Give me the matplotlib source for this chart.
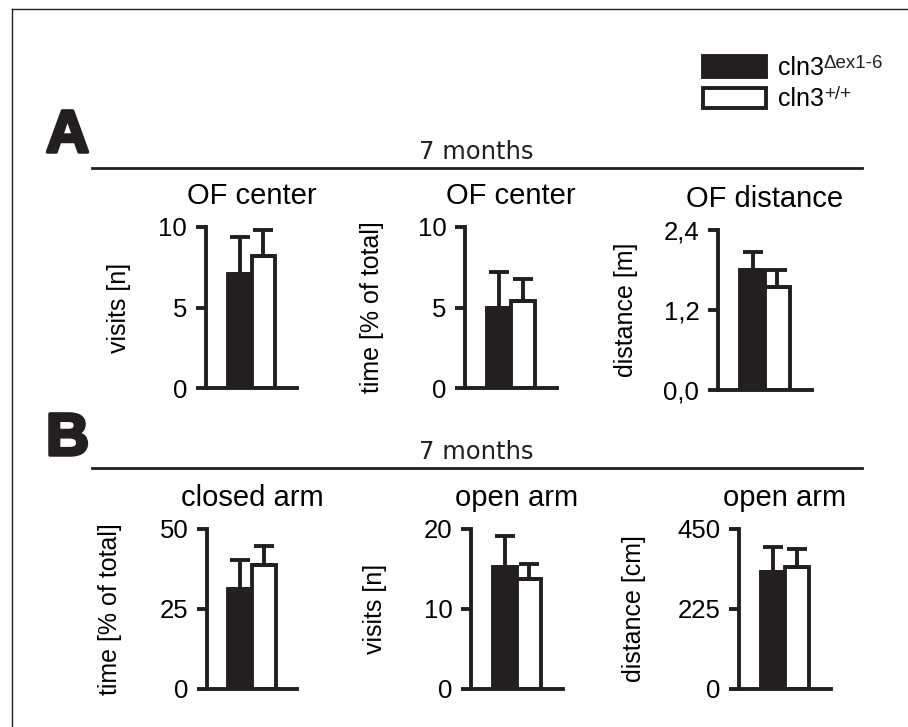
import matplotlib
matplotlib.use("Agg")
import matplotlib.pyplot as plt
import matplotlib.patheffects as pe
from matplotlib.lines import Line2D
from matplotlib.patches import Patch
from matplotlib.text import Annotation

# ===== data =====
titles = ["OF center", "OF center", "OF distance", "closed arm", "open arm", "open arm"]
ylabels = ["visits [n]", "time [% of total]", "distance [m]",
           "time [% of total]", "visits [n]", "distance [cm]"]
ytick_vals = [[0, 5, 10], [0, 5, 10], [0, 1.2, 2.4], [0, 25, 50], [0, 10, 20], [0, 225, 450]]
ytick_labels = [["0", "5", "10"], ["0", "5", "10"], ["0,0", "1,2", "2,4"],
                ["0", "25", "50"], ["0", "10", "20"], ["0", "225", "450"]]
ko_mean = [7.1, 5.0, 1.80, 31.3, 15.3, 329]
ko_err = [2.3, 2.2, 0.27, 9.0, 3.8, 70]
wt_mean = [8.2, 5.4, 1.55, 38.8, 13.8, 343]
wt_err = [1.6, 1.4, 0.25, 5.9, 1.8, 51]
group_names = ["cln3", "cln3"]
group_sups = ["Δex1-6", "+/+"]
row_letters = ["A", "B"]
row_titles = ["7 months", "7 months"]

# ===== layout (pixels, from top-left) =====
W, H = 908, 727
BLACK = "#231f20"
LW = 2.8
# left, top, right, bottom of each axes
boxes = [(206, 227, 297, 388), (465, 227, 557, 388), (718, 230, 812, 390),
         (207, 529, 297, 689), (471, 529, 563, 689), (739, 529, 831, 689)]
ylabel_offset = [-87, -93, -92, -97, -96, -105]
row_line_y = [168, 468]
row_text_y = [159, 459]
letter_y = [152, 455]

plt.rcParams["font.family"] = ["Liberation Sans", "DejaVu Sans"]

fig = plt.figure(figsize=(W / 100, H / 100), dpi=100)


def fx(px):
    return px / W


def fy(py):
    return 1 - py / H


for i, (l, t, r, b) in enumerate(boxes):
    ax = fig.add_axes([fx(l), fy(b), (r - l) / W, (b - t) / H])
    xs = [1.4, 2.4]
    ax.bar(xs, [ko_mean[i], wt_mean[i]], width=1.0, color=[BLACK, "white"],
           edgecolor=BLACK, linewidth=LW, zorder=2)
    ax.errorbar(xs, [ko_mean[i], wt_mean[i]], yerr=[[0, 0], [ko_err[i], wt_err[i]]],
                fmt="none", ecolor=BLACK, elinewidth=LW, capsize=7, capthick=LW, zorder=3)
    ax.set_xlim(0, 3.8)
    ax.set_ylim(0, ytick_vals[i][-1])
    ax.set_yticks(ytick_vals[i])
    ax.set_yticklabels(ytick_labels[i])
    ax.set_xticks([])
    for s in ["top", "right"]:
        ax.spines[s].set_visible(False)
    for s in ["left", "bottom"]:
        ax.spines[s].set_linewidth(LW)
        ax.spines[s].set_color(BLACK)
    ax.tick_params(axis="y", direction="out", length=7, width=LW, color=BLACK,
                   labelsize=18.5, pad=6.5)
    ax.set_title(titles[i], fontsize=21, pad=16.5)
    ax.set_ylabel(ylabels[i], fontsize=18, va="center")
    ax.yaxis.set_label_coords(ylabel_offset[i] / (r - l), 0.5)
    ax.patch.set_visible(False)

# panel letters, separator lines, "7 months"
for k in range(2):
    fig.text(fx(46), fy(letter_y[k]), row_letters[k], fontsize=43, fontweight="bold",
             va="baseline", ha="left", color=BLACK,
             path_effects=[pe.withStroke(linewidth=2.5, foreground=BLACK)])
    fig.add_artist(Line2D([fx(92), fx(862)], [fy(row_line_y[k])] * 2,
                          transform=fig.transFigure, color=BLACK, lw=2))
    fig.text(fx(476), fy(row_text_y[k]), row_titles[k], fontsize=17.5,
             family="DejaVu Sans", ha="center", va="baseline", color=BLACK)

# frame lines (left and top only)
fig.add_artist(Line2D([fx(12), fx(12)], [0, fy(9)], transform=fig.transFigure, color=BLACK, lw=1))
fig.add_artist(Line2D([fx(12), 1], [fy(9), fy(9)], transform=fig.transFigure, color=BLACK, lw=1))

handles = [Patch(facecolor=BLACK, edgecolor=BLACK, linewidth=LW, joinstyle="round"),
           Patch(facecolor="white", edgecolor=BLACK, linewidth=LW, joinstyle="round")]
leg = fig.legend(handles, group_names, loc="upper left", bbox_to_anchor=(fx(703), fy(56)),
                 frameon=False, fontsize=18, handlelength=2.5, handleheight=0.9,
                 handletextpad=0.5, labelspacing=0.3, borderpad=0, borderaxespad=0)
# superscripts next to the legend labels (drawn after the legend)
for txt, sup in zip(leg.get_texts(), group_sups):
    fig.add_artist(Annotation(sup, xy=(1.0, 0.52), xycoords=txt, xytext=(0, 0),
                              textcoords="offset points", fontsize=13.5,
                              ha="left", va="baseline", color=BLACK, zorder=10))

fig.savefig("out.png", dpi=100)
